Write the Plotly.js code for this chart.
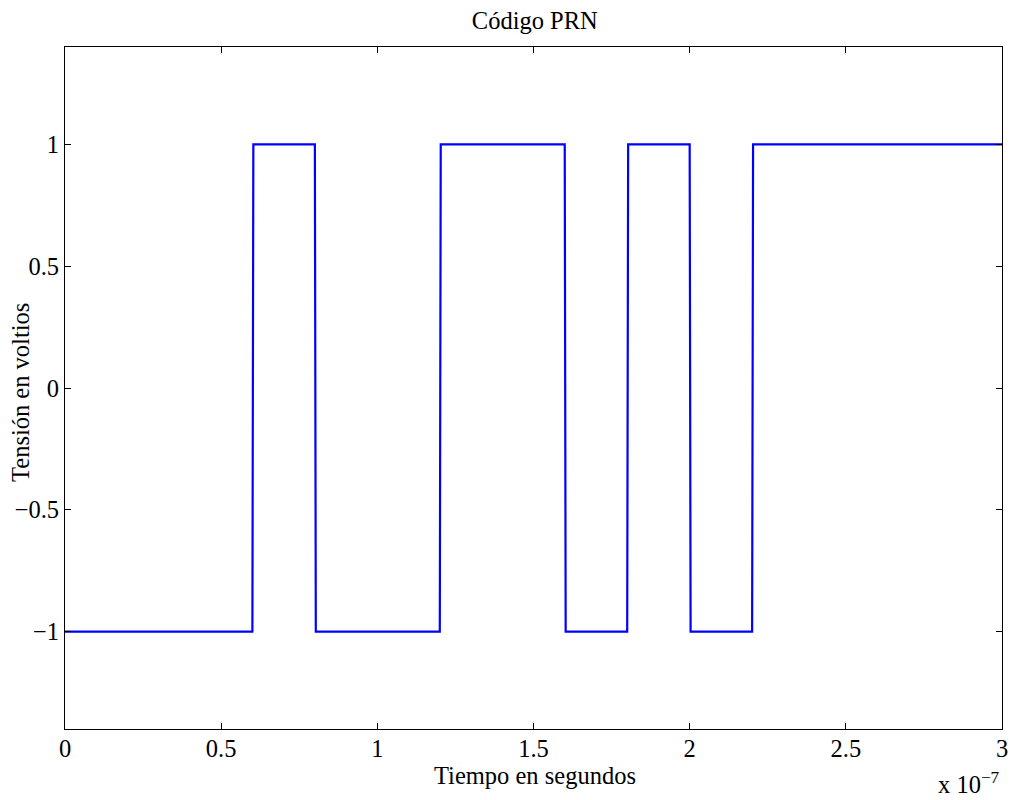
<!DOCTYPE html>
<html>
<head>
<meta charset="utf-8">
<script src="https://cdn.plot.ly/plotly-3.0.1.min.js"></script>
<style>html,body{margin:0;padding:0;background:#fff;}#chart{width:1011px;height:800px;}</style>
</head>
<body>
<div id="chart"></div>
<script>
// Time in seconds (edge samples of the PRN waveform)
const timeSec = [0, 0.6e-7, 0.603e-7, 0.8e-7, 0.803e-7, 1.2e-7, 1.203e-7, 1.6e-7, 1.603e-7, 1.8e-7, 1.803e-7, 2.0e-7, 2.003e-7, 2.2e-7, 2.203e-7, 3.0e-7];
// Voltage levels at those samples
const voltage = [-1, -1, 1, 1, -1, -1, 1, 1, -1, -1, 1, 1, -1, -1, 1, 1];
// Tick values and labels
const xTickVals = [0, 0.5e-7, 1e-7, 1.5e-7, 2e-7, 2.5e-7, 3e-7];
const xTickText = ["0", "0.5", "1", "1.5", "2", "2.5", "3"];
const yTickVals = [-1, -0.5, 0, 0.5, 1];
const yTickText = ["\u22121", "\u22120.5", "0", "0.5", "1"];

const font = {family: "Liberation Serif, Times New Roman, serif", size: 24.5, color: "#000"};

const trace = {
  x: timeSec, y: voltage, type: "scatter", mode: "lines",
  line: {color: "#0000ff", width: 2.2}, hoverinfo: "skip"
};

const layout = {
  width: 1011, height: 800,
  margin: {l: 64.5, r: 9, t: 47, b: 71},
  paper_bgcolor: "#fff", plot_bgcolor: "#fff",
  showlegend: false,
  font: font,
  title: {text: "Código PRN", font: font, x: 0.529, xanchor: "center", y: 0.975, yanchor: "middle"},
  xaxis: {
    range: [0, 3e-7], tickvals: xTickVals, ticktext: xTickText,
    ticks: "inside", ticklen: 6, tickwidth: 1, tickcolor: "#000",
    showline: true, linecolor: "#000", linewidth: 1, mirror: "ticks",
    showgrid: false, zeroline: false, tickfont: font, ticklabelstandoff: -2
  },
  yaxis: {
    range: [-1.4, 1.4], tickvals: yTickVals, ticktext: yTickText,
    ticks: "inside", ticklen: 6, tickwidth: 1, tickcolor: "#000",
    showline: true, linecolor: "#000", linewidth: 1, mirror: "ticks",
    showgrid: false, zeroline: false, tickfont: font
  },
  annotations: [
    {
      text: "Tiempo en segundos", xref: "paper", yref: "paper",
      x: 0.5015, y: 0, xanchor: "center", yanchor: "top", yshift: -31,
      showarrow: false, font: font
    },
    {
      text: "Tensión en voltios", xref: "paper", yref: "paper", textangle: -90,
      x: 0, y: 0.4927, xanchor: "center", yanchor: "middle", xshift: -44,
      showarrow: false, font: font
    },
    {
      text: "x 10<sup>\u22127</sup>", xref: "paper", yref: "paper",
      x: 1.0, y: 0, xanchor: "right", yanchor: "top", yshift: -37,
      showarrow: false, font: font
    }
  ]
};

Plotly.newPlot("chart", [trace], layout, {staticPlot: true, displayModeBar: false});
</script>
</body>
</html>
